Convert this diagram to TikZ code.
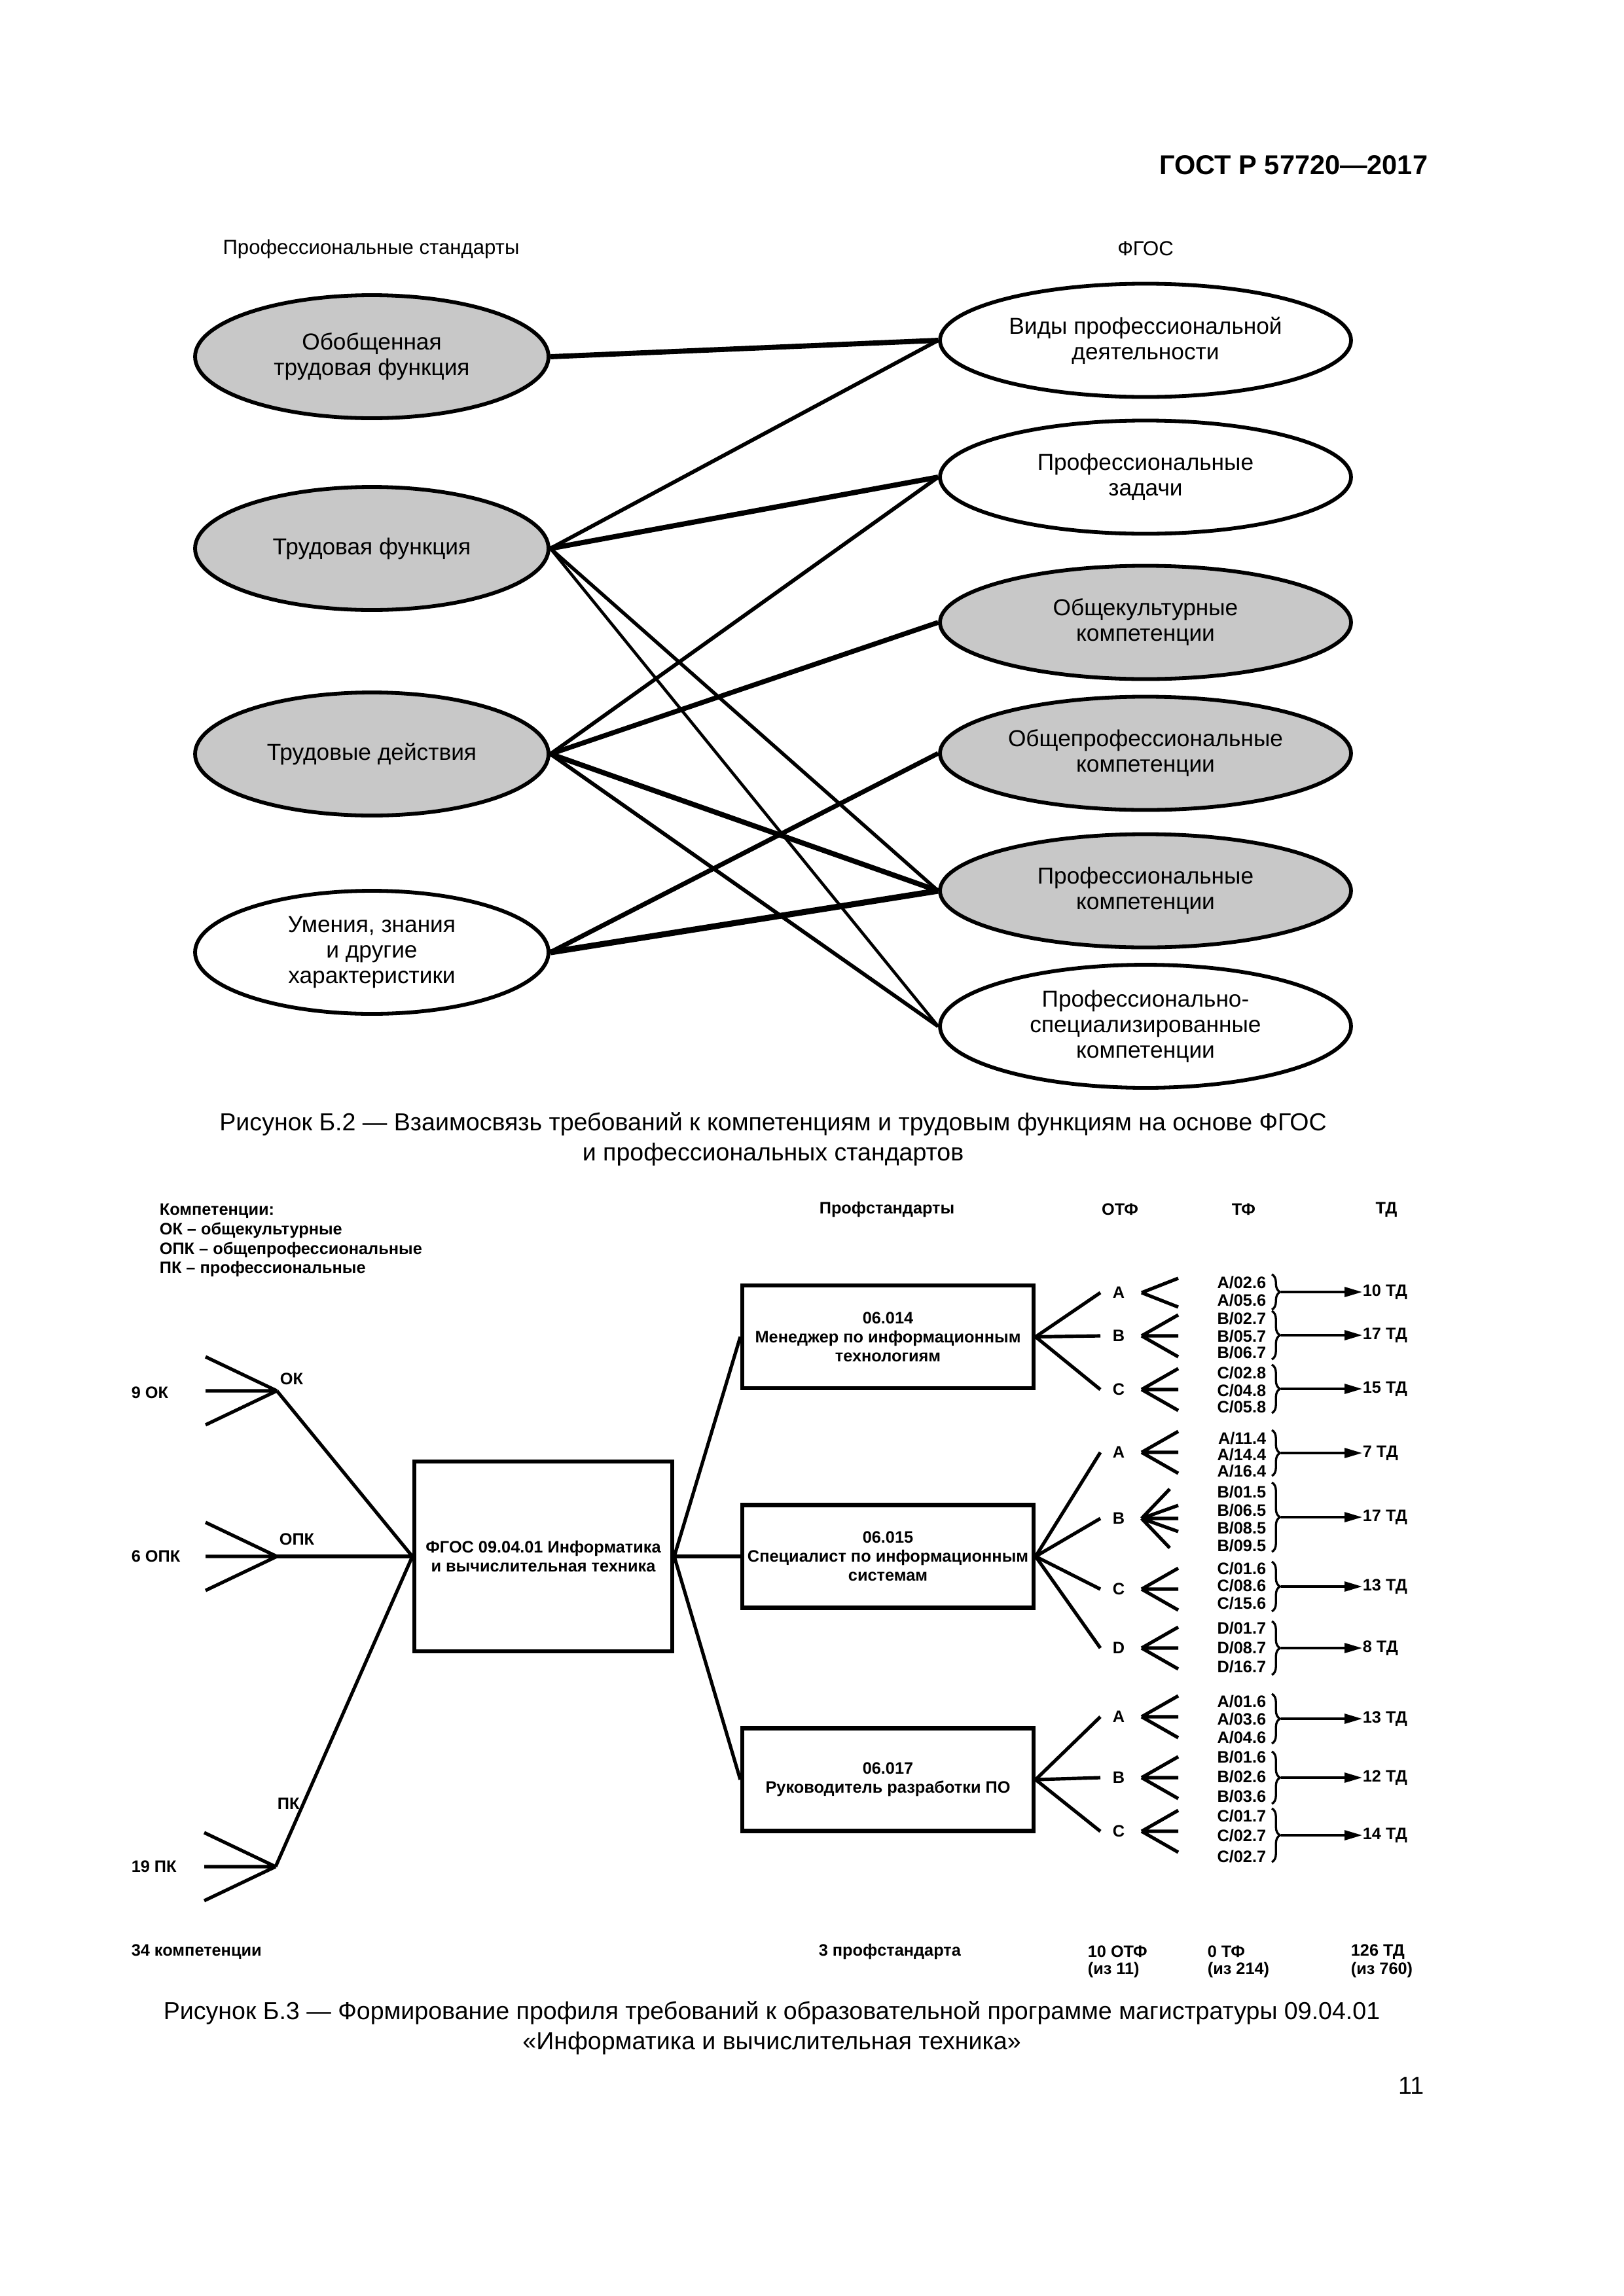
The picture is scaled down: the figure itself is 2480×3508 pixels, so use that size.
\documentclass[tikz,border=0pt]{standalone}
\usepackage{fontspec}
\setmainfont{Liberation Sans}
\usetikzlibrary{shapes.geometric,arrows.meta,decorations.pathreplacing,calc}
\definecolor{ovalgray}{RGB}{200,200,200}
\newcommand\ovfont{\fontsize{8.5}{9.4}\selectfont}
\newcommand\bthree{\fontsize{6.1}{7}\selectfont\bfseries}
\newcommand\capfont{\fontsize{9.05}{11.1}\selectfont}
\begin{document}
\begin{tikzpicture}[x=0.240945pt,y=-0.240945pt,
  lov/.style={ellipse,draw,line width=1.4pt,fill=ovalgray,minimum width=130.1pt,minimum height=45.3pt,inner sep=0pt,align=center,font=\ovfont},
  rov/.style={ellipse,draw,line width=1.4pt,fill=white,minimum width=151.3pt,minimum height=41.7pt,inner sep=0pt,align=center,font=\ovfont},
  gr/.style={fill=ovalgray},
  txt/.style={inner sep=0pt,font=\bthree},
  psbox/.style={draw,line width=1.5pt,rectangle,minimum width=107.2pt,minimum height=37.8pt,inner sep=0pt,align=center,font=\bthree},
  fline/.style={line width=1.25pt},
  brc/.style={decorate,decoration={brace,amplitude=3pt},line width=0.8pt},
  tdarr/.style={line width=0.8pt,-{Triangle[length=6.5pt,width=3.6pt]}}]
\useasboundingbox (0,0) rectangle (2480,3508);
% ---------- header
\node[anchor=east,inner sep=0pt,font=\fontsize{10}{12}\selectfont\bfseries] (gost) at (2182,252) {ГОСТ Р 57720—2017};
\node[inner sep=0pt,font=\fontsize{7.5}{9}\selectfont] (hps) at (567,380) {Профессиональные стандарты};
\node[inner sep=0pt,font=\fontsize{7.5}{9}\selectfont] (hfgos) at (1750,380) {ФГОС};
% ---------- figure B.2
\node[lov] (l1) at (568,545) {Обобщенная\\трудовая функция};
\node[lov] (l2) at (568,838) {Трудовая функция};
\node[lov] (l3) at (568,1152) {Трудовые действия};
\node[lov,fill=white] (l4) at (568,1455) {Умения, знания\\и другие\\характеристики};
\node[rov] (r1) at (1750,520) {Виды профессиональной\\деятельности};
\node[rov] (r2) at (1750,729) {Профессиональные\\задачи};
\node[rov,gr] (r3) at (1750,951) {Общекультурные\\компетенции};
\node[rov,gr] (r4) at (1750,1151) {Общепрофессиональные\\компетенции};
\node[rov,gr] (r5) at (1750,1361) {Профессиональные\\компетенции};
\node[rov,minimum height=45.3pt] (r6) at (1750,1568) {Профессионально-\\специализированные\\компетенции};
\draw[line width=1.9pt] (l1.east) -- (r1.west);
\draw[line width=1.4pt] (l2.east) -- (r1.west);
\draw[line width=1.9pt] (l2.east) -- (r2.west);
\draw[line width=1.3pt] (l2.east) -- (r5.west);
\draw[line width=1.1pt] (l2.east) -- (r6.west);
\draw[line width=1.4pt] (l3.east) -- (r2.west);
\draw[line width=1.8pt] (l3.east) -- (r3.west);
\draw[line width=1.9pt] (l3.east) -- (r5.west);
\draw[line width=1.4pt] (l3.east) -- (r6.west);
\draw[line width=1.7pt] (l4.east) -- (r4.west);
\draw[line width=2.2pt] (l4.east) -- (r5.west);
\node[inner sep=0pt,align=center,font=\capfont] (cap2) at (1181,1740) {Рисунок Б.2 — Взаимосвязь требований к компетенциям и трудовым функциям на основе ФГОС\\и профессиональных стандартов};
% ---------- figure B.3
\node[inner sep=0pt,anchor=west,align=left,font=\fontsize{6.1}{7.2}\selectfont\bfseries] (legend) at (243,1895) {Компетенции:\\ОК – общекультурные\\ОПК – общепрофессиональные\\ПК – профессиональные};
\node[txt] (hprof) at (1355,1848) {Профстандарты};
\node[txt] (hotf) at (1711,1848) {ОТФ};
\node[txt] (htf) at (1900,1848) {ТФ};
\node[txt] (htd) at (2118,1848) {ТД};
% left fans
\coordinate (okv) at (423,2125);
\coordinate (opkv) at (423,2378);
\coordinate (pkv) at (421,2852);
\foreach \v in {okv,opkv,pkv}
  \draw[fline] (\v) -- ++(-109,-52) (\v) -- ++(-109,0) (\v) -- ++(-109,52);
\node[txt,anchor=west] (n9ok) at (200,2128) {9 ОК};
\node[txt,anchor=west] (n6opk) at (200,2378) {6 ОПК};
\node[txt,anchor=west] (n19pk) at (200,2852) {19 ПК};
\node[txt,anchor=west] (lok) at (427,2107) {ОК};
\node[txt,anchor=west] (lopk) at (426,2352) {ОПК};
\node[txt,anchor=west] (lpk) at (423,2756) {ПК};
\node[psbox,minimum width=94.9pt,minimum height=69.9pt] (fgos) at (830,2378) {ФГОС 09.04.01 Информатика\\и вычислительная техника};
\draw[fline] (okv) -- (fgos.west);
\draw[fline] (opkv) -- (fgos.west);
\draw[fline] (pkv) -- (fgos.west);
\node[psbox] (ps1) at (1356.5,2042.5) {06.014\\Менеджер по информационным\\технологиям};
\node[psbox] (ps2) at (1356.5,2378) {06.015\\Специалист по информационным\\системам};
\node[psbox] (ps3) at (1356.5,2719) {06.017\\Руководитель разработки ПО};
\draw[fline] (fgos.east) -- (ps1.west);
\draw[fline] (fgos.east) -- (ps2.west);
\draw[fline] (fgos.east) -- (ps3.west);
% OTF letters and fans
\foreach \n/\t/\y in {p1a/A/1975,p1b/B/2041,p1c/C/2123,p2a/A/2219,p2b/B/2320,p2c/C/2428,p2d/D/2518,p3a/A/2623,p3b/B/2716,p3c/C/2798}{
  \node[txt] (\n) at (1709,\y) {\t};
  \coordinate (\n-e) at (1681,\y);
  \coordinate (\n-v) at (1744,\y);
}
\foreach \n in {p1a,p1b,p1c} \draw[fline] (ps1.east) -- (\n-e);
\foreach \n in {p2a,p2b,p2c,p2d} \draw[fline] (ps2.east) -- (\n-e);
\foreach \n in {p3a,p3b,p3c} \draw[fline] (ps3.east) -- (\n-e);
\foreach \n in {p1b,p1c,p2a,p2c,p2d,p3a,p3b,p3c}
  \draw[fline] (\n-v) -- ++(56,-32) (\n-v) -- ++(56,0) (\n-v) -- ++(56,32);
\draw[fline] (p1a-v) -- ++(56,-22) (p1a-v) -- ++(56,22);
\draw[fline] (p2b-v) -- ++(43,-45) (p2b-v) -- ++(56,-20) (p2b-v) -- ++(56,0) (p2b-v) -- ++(56,20) (p2b-v) -- ++(43,45);
% TF labels
\node[txt,anchor=east] (tf1) at (1935,1960) {A/02.6};
\node[txt,anchor=east] (tf2) at (1935,1987) {A/05.6};
\node[txt,anchor=east] (tf3) at (1935,2015) {B/02.7};
\node[txt,anchor=east] (tf4) at (1935,2042) {B/05.7};
\node[txt,anchor=east] (tf5) at (1935,2067) {B/06.7};
\node[txt,anchor=east] (tf6) at (1935,2098) {C/02.8};
\node[txt,anchor=east] (tf7) at (1935,2125) {C/04.8};
\node[txt,anchor=east] (tf8) at (1935,2150) {C/05.8};
\node[txt,anchor=east] (tf9) at (1935,2198) {A/11.4};
\node[txt,anchor=east] (tf10) at (1935,2223) {A/14.4};
\node[txt,anchor=east] (tf11) at (1935,2248) {A/16.4};
\node[txt,anchor=east] (tf12) at (1935,2280) {B/01.5};
\node[txt,anchor=east] (tf13) at (1935,2308) {B/06.5};
\node[txt,anchor=east] (tf14) at (1935,2335) {B/08.5};
\node[txt,anchor=east] (tf15) at (1935,2362) {B/09.5};
\node[txt,anchor=east] (tf16) at (1935,2397) {C/01.6};
\node[txt,anchor=east] (tf17) at (1935,2423) {C/08.6};
\node[txt,anchor=east] (tf18) at (1935,2450) {C/15.6};
\node[txt,anchor=east] (tf19) at (1935,2488) {D/01.7};
\node[txt,anchor=east] (tf20) at (1935,2518) {D/08.7};
\node[txt,anchor=east] (tf21) at (1935,2547) {D/16.7};
\node[txt,anchor=east] (tf22) at (1935,2600) {A/01.6};
\node[txt,anchor=east] (tf23) at (1935,2627) {A/03.6};
\node[txt,anchor=east] (tf24) at (1935,2655) {A/04.6};
\node[txt,anchor=east] (tf25) at (1935,2685) {B/01.6};
\node[txt,anchor=east] (tf26) at (1935,2715) {B/02.6};
\node[txt,anchor=east] (tf27) at (1935,2745) {B/03.6};
\node[txt,anchor=east] (tf28) at (1935,2775) {C/01.7};
\node[txt,anchor=east] (tf29) at (1935,2805) {C/02.7};
\node[txt,anchor=east] (tf30) at (1935,2837) {C/02.7};
% braces and TD
\foreach \i/\a/\b/\m/\t in {1/1947/2001/1974/10 ТД,2/2003/2077/2040/17 ТД,3/2085/2159/2122/15 ТД,4/2185/2255/2220/7 ТД,5/2265/2371/2318/17 ТД,6/2386/2462/2424/13 ТД,7/2477/2559/2518/8 ТД,8/2588/2664/2626/13 ТД,9/2676/2756/2716/12 ТД,10/2763/2845/2804/14 ТД}{
  \draw[brc] (1943,\a) -- (1943,\b);
  \coordinate (bt\i) at (1957,\m);
  \node[txt,anchor=west] (td\i) at (2081,\m) {\t};
  \draw[tdarr] (bt\i) -- (td\i.west);
}
% bottom totals
\node[txt,anchor=west] (s1) at (200,2982) {34 компетенции};
\node[txt,anchor=west] (s2) at (1250,2982) {3 профстандарта};
\node[txt,anchor=west] (s3) at (1661,2982) {10 ОТФ};
\node[txt,anchor=west] (s3b) at (1661,3010) {(из 11)};
\node[txt,anchor=west] (s4) at (1844,2982) {0 ТФ};
\node[txt,anchor=west] (s4b) at (1844,3010) {(из 214)};
\node[txt,anchor=west] (s5) at (2063,2982) {126 ТД};
\node[txt,anchor=west] (s5b) at (2063,3010) {(из 760)};
\node[inner sep=0pt,align=center,font=\capfont] (cap3) at (1179,3098) {Рисунок Б.3 — Формирование профиля требований к образовательной программе магистратуры 09.04.01\\«Информатика и вычислительная техника»};
\node[inner sep=0pt,anchor=east,font=\capfont] (pg) at (2176,3187) {11};
\end{tikzpicture}
\end{document}
